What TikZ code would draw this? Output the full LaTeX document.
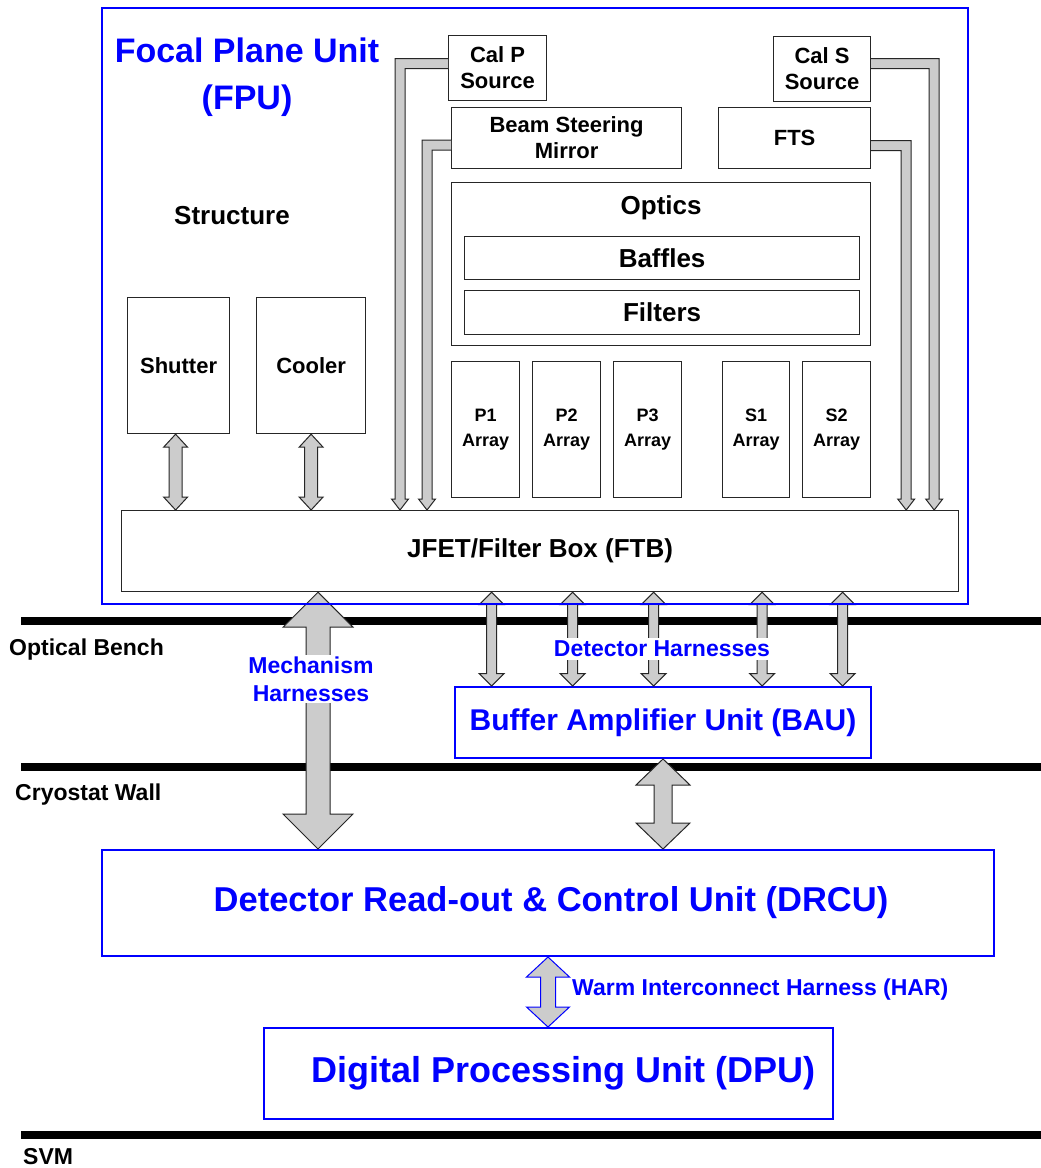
\documentclass[tikz,border=0pt]{standalone}
\usepackage{fontspec}
\setmainfont{Liberation Sans}
\usetikzlibrary{calc}

% vertical block arrow with a head at both ends: style, top tip, bottom tip,
% half shaft width, half head width, head length
\newcommand\dblarrow[6]{%
  \filldraw[#1] let \p1=(#2), \p2=(#3) in
    (\x1,\y1) -- ({\x1+#5pt},{\y1-#6pt}) -- ({\x1+#4pt},{\y1-#6pt})
    -- ({\x1+#4pt},{\y2+#6pt}) -- ({\x1+#5pt},{\y2+#6pt}) -- (\x1,\y2)
    -- ({\x1-#5pt},{\y2+#6pt}) -- ({\x1-#4pt},{\y2+#6pt})
    -- ({\x1-#4pt},{\y1-#6pt}) -- ({\x1-#5pt},{\y1-#6pt}) -- cycle;}

% bent harness pipe leaving a box sideways and turning down onto the FTB:
% start on the box side, arrow tip, direction (1 right, -1 left)
\newcommand\pipe[3]{%
  \filldraw[pipestyle] let \p1=(#1), \p2=(#2) in
    (\x1,{\y1+5pt}) -- ({\x2+(#3)*5pt},{\y1+5pt}) -- ({\x2+(#3)*5pt},{\y2+11pt})
    -- ({\x2+(#3)*8.5pt},{\y2+11pt}) -- (\x2,\y2) -- ({\x2-(#3)*8.5pt},{\y2+11pt})
    -- ({\x2-(#3)*5pt},{\y2+11pt}) -- ({\x2-(#3)*5pt},{\y1-5pt}) -- (\x1,{\y1-5pt});}

\begin{document}
\begin{tikzpicture}[x=1pt,y=-1pt,
  box/.style={draw=black!85, line width=1.2pt, fill=white, inner sep=0pt,
    anchor=north west, align=center, font=\bfseries\fontsize{22}{26}\selectfont},
  bigbox/.style={box, font=\bfseries\fontsize{26}{30}\selectfont},
  arraybox/.style={box, minimum width=68pt, minimum height=136pt,
    font=\bfseries\fontsize{18}{25}\selectfont},
  unitbox/.style={draw=blue, line width=2pt, fill=white, inner sep=0pt,
    anchor=north west, text=blue, font=\bfseries\fontsize{34}{40}\selectfont},
  bar/.style={line width=8pt, black},
  blockarrow/.style={fill=black!20, draw=black!85, line width=1pt, line join=miter},
  warmarrow/.style={fill=black!20, draw=blue, line width=1pt, line join=miter},
  pipestyle/.style={fill=black!20, draw=black!85, line width=1pt, line join=miter},
  plain/.style={font=\bfseries\fontsize{23}{27}\selectfont, inner sep=0pt, anchor=west},
  bluelabel/.style={text=blue, font=\bfseries\fontsize{23}{28}\selectfont, align=center},
]
\useasboundingbox (0,0) rectangle (1041,1168);
\fill[white] (0,0) rectangle (1041,1168);

% interface levels
\draw[bar] (21,621) -- (1041,621);
\draw[bar] (21,767) -- (1041,767);
\draw[bar] (21,1135) -- (1041,1135);
\node[plain] (lbench) at (9,650) {Optical Bench};
\node[plain] (lwall) at (15,795) {Cryostat Wall};
\node[plain] (lsvm) at (23,1157) {SVM};

% focal plane unit frame (border drawn last)
\node[inner sep=0pt, anchor=north west, minimum width=866pt, minimum height=596pt] (fpu) at (102,8) {};
\node[text=blue, align=center, font=\bfseries\fontsize{34}{47}\selectfont] (fputitle) at (247,77) {Focal Plane Unit\\(FPU)};
\node[font=\bfseries\fontsize{26}{30}\selectfont] (structure) at (232,216) {Structure};

% FPU subsystems
\node[box, minimum width=98pt, minimum height=65pt] (calp) at (448,35) {Cal P\\Source};
\node[box, minimum width=230pt, minimum height=61pt] (bsm) at (451,107) {Beam Steering\\Mirror};
\node[box, minimum width=97pt, minimum height=65pt] (cals) at (773,36) {Cal S\\Source};
\node[box, minimum width=152pt, minimum height=61pt] (fts) at (718,107) {FTS};
\node[box, minimum width=419pt, minimum height=163pt] (optics) at (451,182) {};
\node[font=\bfseries\fontsize{26}{30}\selectfont] (opticslabel) at ($(optics.north)+(0,26)$) {Optics};
\node[bigbox, minimum width=395pt, minimum height=43pt] (baffles) at (464,236) {Baffles};
\node[bigbox, minimum width=395pt, minimum height=44pt] (filters) at (464,290) {Filters};
\node[arraybox] (p1) at (451,361) {P1\\Array};
\node[arraybox] (p2) at (532,361) {P2\\Array};
\node[arraybox] (p3) at (613,361) {P3\\Array};
\node[arraybox, minimum width=67pt] (s1) at (722,361) {S1\\Array};
\node[arraybox] (s2) at (802,361) {S2\\Array};
\node[box, minimum width=102pt, minimum height=136pt] (shutter) at (127,297) {Shutter};
\node[box, minimum width=109pt, minimum height=136pt] (cooler) at (256,297) {Cooler};
\node[bigbox, minimum width=837pt, minimum height=81pt] (jfet) at (121,510) {JFET/Filter Box (FTB)};

% warm and intermediate units
\node[unitbox, minimum width=416pt, minimum height=71pt,
  font=\bfseries\fontsize{30}{36}\selectfont] (bau) at (454,686) {Buffer Amplifier Unit (BAU)};
\node[unitbox, minimum width=892pt, minimum height=106pt] (drcu) at (101,849) {};
\node[text=blue, font=\bfseries\fontsize{34.5}{40}\selectfont] (drculabel) at ($(drcu.center)+(3,0)$) {Detector Read-out \& Control Unit (DRCU)};
\node[unitbox, minimum width=569pt, minimum height=91pt] (dpu) at (263,1027) {};
\node[text=blue, font=\bfseries\fontsize{36}{40}\selectfont] (dpulabel) at ($(dpu.center)+(15,0)$) {Digital Processing Unit (DPU)};

% harness pipes from the calibration sources and mechanisms
\pipe{$(calp.west)+(0,-4.5)$}{$(calp.west |- jfet.north)+(-48,0)$}{-1}
\pipe{$(bsm.west)+(0,7)$}{$(bsm.west |- jfet.north)+(-24,0)$}{-1}
\pipe{$(cals.east)+(0,-5.5)$}{$(cals.east |- jfet.north)+(63,0)$}{1}
\pipe{$(fts.east)+(0,7.5)$}{$(fts.east |- jfet.north)+(35,0)$}{1}

% shutter and cooler links
\dblarrow{blockarrow}{$(shutter.south)+(-3,0)$}{$(shutter.south |- jfet.north)+(-3,0)$}{6.5}{12}{13}
\dblarrow{blockarrow}{cooler.south}{cooler.south |- jfet.north}{6.5}{12}{13}

% detector harnesses
\foreach \a in {p1,p2,p3,s1,s2}{
  \dblarrow{blockarrow}{$(\a.south |- jfet.south)+(6,0)$}{$(\a.south |- bau.north)+(6,0)$}{5}{12.5}{12.5}
}

% mechanism harnesses
\coordinate (mech) at ($(jfet.south west)+(197,0)$);
\dblarrow{blockarrow}{mech}{mech |- drcu.north}{12}{35}{35}
% BAU to DRCU
\dblarrow{blockarrow}{bau.south}{bau.south |- drcu.north}{9}{27}{26}
% warm interconnect
\dblarrow{warmarrow}{drcu.south}{drcu.south |- dpu.north}{7.5}{21.5}{20}

% harness labels
\node[bluelabel, fill=white, inner sep=2pt] (mechlabel) at (311,679) {Mechanism\\Harnesses};
\node[bluelabel, fill=white, inner sep=3pt] (detlabel) at (662,649) {Detector Harnesses};
\node[bluelabel, anchor=west, inner sep=0pt] (warmlabel) at (572,990) {Warm Interconnect Harness (HAR)};

% FPU border on top
\draw[blue, line width=2pt] (fpu.north west) rectangle (fpu.south east);
\end{tikzpicture}
\end{document}
